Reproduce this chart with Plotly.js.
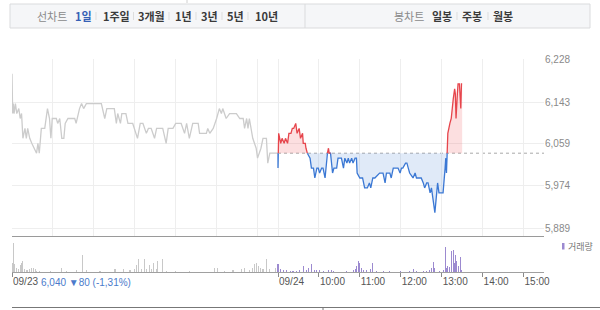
<!DOCTYPE html>
<html><head><meta charset="utf-8">
<script src="https://cdn.plot.ly/plotly-3.0.1.min.js"></script>
<style>html,body{margin:0;padding:0;background:#fff;}#chart{width:600px;height:310px;}</style>
</head><body><div id="chart"></div>
<script>
// ---------------- data ----------------
const prevClose = 6040;
const yTickVals = [5889, 5974, 6059, 6143, 6228];
const xTickDays  = [1, 2, 2, 2, 2, 2, 2, 2];
const xTickTimes = ["09:00","09:00","10:00","11:00","12:00","13:00","14:00","15:00"];
const xTickLabels = ["09/23","09/24","10:00","11:00","12:00","13:00","14:00","15:00"];
const gridHours = ["09:00","10:00","11:00","12:00","13:00","14:00","15:00"];

const day1Times = ["09:00","09:01","09:02","09:03","09:05","09:07","09:10","09:12","09:14","09:16","09:19","09:21","09:23","09:26","09:29","09:33","09:36","09:38","09:40","09:43","09:48","09:52","09:55","09:57","09:59","10:05","10:07","10:10","10:13","10:16","10:18","10:22","10:32","10:34","10:37","10:39","10:42","10:45","10:49","11:11","11:16","11:19","11:30","11:33","11:35","11:39","11:41","11:47","11:50","11:57","12:04","12:08","12:12","12:17","12:20","12:24","12:29","12:32","12:41","12:46","12:49","12:56","13:00","13:08","13:13","13:16","13:20","13:25","13:33","13:35","13:45","13:47","13:50","13:55","14:00","14:04","14:07","14:09","14:14","14:19","14:29","14:34","14:39","14:41","14:44","14:46","14:48","14:51","14:53","14:58","15:00","15:05","15:08","15:13","15:15","15:18","15:30"];
const day1Price = [6200,6120,6140,6120,6140,6120,6130,6110,6120,6070,6090,6070,6090,6070,6060,6050,6040,6060,6040,6090,6090,6130,6110,6070,6110,6110,6100,6110,6070,6070,6100,6110,6110,6100,6120,6130,6140,6130,6140,6140,6110,6130,6130,6100,6120,6100,6120,6120,6100,6100,6070,6100,6100,6080,6090,6090,6070,6090,6090,6060,6090,6090,6100,6100,6080,6100,6070,6100,6100,6080,6080,6090,6080,6090,6110,6130,6120,6130,6110,6120,6120,6110,6110,6090,6110,6090,6110,6090,6070,6050,6030,6050,6070,6070,6020,6040,6040];

const day2Times = ["09:00","09:01","09:04","09:06","09:09","09:11","09:14","09:16","09:19","09:21","09:23","09:26","09:28","09:31","09:33","09:36","09:37","09:40","09:41","09:43","09:47","09:49","09:52","09:54","09:57","09:59","10:01","10:04","10:06","10:09","10:11","10:14","10:15","10:17","10:20","10:22","10:26","10:28","10:33","10:36","10:38","10:41","10:43","10:45","10:48","10:50","10:53","10:55","10:56","11:00","11:04","11:07","11:11","11:14","11:16","11:19","11:22","11:29","11:34","11:37","11:39","11:44","11:46","11:49","11:56","11:59","12:01","12:03","12:07","12:09","12:11","12:13","12:18","12:21","12:23","12:28","12:30","12:33","12:35","12:38","12:40","12:43","12:45","12:47","12:50","12:52","12:54","12:56","13:02","13:05","13:06","13:07","13:08","13:09","13:12","13:14","13:17","13:19","13:20","13:21","13:23","13:24","13:26","13:28","13:29","13:30"];
const day2Price = [6010,6080,6060,6070,6060,6070,6060,6080,6080,6090,6090,6100,6080,6090,6070,6080,6060,6060,6050,6040,6030,6010,6010,5990,6010,6010,6000,6010,6010,5990,6030,6050,6040,6040,6000,6010,6010,6030,6030,6010,6030,6020,6030,6020,6030,6020,6030,6030,6000,5990,5990,5970,5970,5980,5970,5990,5990,6000,6000,5980,6000,6000,5990,6010,6010,6000,6010,6010,6020,6020,6010,6000,5990,6000,5990,5990,5990,5980,5970,5980,5980,5960,5970,5950,5920,5950,5980,5960,5960,6010,6030,6000,6040,6080,6100,6110,6150,6170,6160,6110,6160,6180,6180,6130,6180,6180];

const day1VolTimes = ["09:00","09:02","09:04","09:07","09:09","09:12","09:14","09:16","09:19","09:22","09:26","09:29","09:31","09:34","09:36","09:41","09:56","10:13","10:20","10:35","10:43","10:49","11:09","11:31","11:43","11:53","12:00","12:02","12:06","12:10","12:14","12:17","12:22","12:24","12:28","12:32","12:34","12:40","12:46","12:59","13:20","13:57","14:02","14:12","14:24","14:36","14:41","14:48","14:53","14:56","14:58","15:02","15:05","15:08","15:13","15:18","15:27"];
const day1Vol = [9300,29300,7700,4300,2700,6700,9300,11000,2700,2000,2700,4300,4000,2700,1300,1300,1300,4300,1500,2000,16700,2000,1000,2700,2700,1700,2700,6700,12700,2700,13300,2700,6700,2700,8700,2700,11000,12700,1500,1200,1200,4300,4300,1500,2000,3300,4300,2000,4000,7700,9300,6000,4300,3300,12700,3300,4300];

const day2VolTimes = ["09:00","09:03","09:08","09:13","09:18","09:22","09:27","09:32","09:37","09:42","09:44","09:49","09:54","09:57","10:01","10:06","10:14","10:19","10:21","10:41","10:50","10:53","10:55","10:58","11:00","11:02","11:05","11:10","11:15","11:19","11:24","11:34","11:44","11:59","12:13","12:18","12:23","12:33","12:38","12:42","12:45","12:48","12:50","12:57","13:02","13:05","13:07","13:09","13:12","13:14","13:17","13:19","13:20","13:22","13:24","13:27","13:29"];
const day2Vol = [8000,3000,2300,1700,1500,1500,1500,2300,5700,1700,4000,8000,2300,1700,1700,1000,1700,2300,1300,1300,2300,3000,5700,11300,9000,4000,2300,1700,3000,9000,1300,1000,1000,1300,1300,3000,1000,1000,1300,1700,4000,9700,4000,1000,2300,25000,4000,5700,5000,20700,22300,9000,17300,10700,5700,15000,2300];

const summaryText = "6,040 ▼80 (-1,31%)";
const legendText = "거래량";
const lineLabel = "선차트";
const periodLabels = ["1일","1주일","3개월","1년","3년","5년","10년"];
const candleLabel = "봉차트";
const candleLabels = ["일봉","주봉","월봉"];

// ---------------- helpers ----------------
function tx(day, t){ const p = t.split(':').map(Number); return (day-1)*390 + (p[0]-9)*60 + p[1]; }
const L = 12, R = 56, T = 59, B = 38, W = 600, H = 310;
const PW = W - L - R, PH = H - T - B;
const PX = p => (p - L) / PW;
const PY = p => (H - B - p) / PH;
const KFONT = '"Noto Sans CJK KR", "Noto Sans", sans-serif';
const NFONT = 'Arial, "Liberation Sans", "Noto Sans CJK KR", sans-serif';

// day-2 sequence starting from previous close, split at the baseline
const seq = [{x: tx(1, day1Times[day1Times.length-1]), y: day1Price[day1Price.length-1]}]
  .concat(day2Times.map((t,i)=>({x: tx(2,t), y: day2Price[i]})));
const aug = [];
for (let i=0;i<seq.length;i++){
  if (i>0){
    const a=seq[i-1], b=seq[i];
    if ((a.y-prevClose)*(b.y-prevClose) < 0){
      const f=(prevClose-a.y)/(b.y-a.y);
      aug.push({x:a.x+f*(b.x-a.x), y:prevClose});
    }
  }
  aug.push(seq[i]);
}
const ax = aug.map(p=>p.x);
const baseY = aug.map(()=>prevClose);

const traces = [
  {x: ax, y: baseY, mode:'lines', line:{width:0}, hoverinfo:'skip', xaxis:'x', yaxis:'y'},
  {x: ax, y: aug.map(p=>Math.max(p.y,prevClose)), mode:'lines', line:{width:0}, fill:'tonexty', fillcolor:'rgba(240,110,115,0.22)', hoverinfo:'skip', xaxis:'x', yaxis:'y'},
  {x: ax, y: baseY, mode:'lines', line:{width:0}, hoverinfo:'skip', xaxis:'x', yaxis:'y'},
  {x: ax, y: aug.map(p=>Math.min(p.y,prevClose)), mode:'lines', line:{width:0}, fill:'tonexty', fillcolor:'rgba(100,150,220,0.2)', hoverinfo:'skip', xaxis:'x', yaxis:'y'},
  {x: day1Times.map(t=>tx(1,t)), y: day1Price, mode:'lines', line:{color:'#cccccc', width:1.3}, xaxis:'x', yaxis:'y'},
  {x: ax, y: aug.map(p=>p.y<=prevClose?p.y:null), mode:'lines', connectgaps:false, line:{color:'#3b78d4', width:1.3}, xaxis:'x', yaxis:'y'},
  {x: ax, y: aug.map(p=>p.y>=prevClose?p.y:null), mode:'lines', connectgaps:false, line:{color:'#e6454c', width:1.3}, xaxis:'x', yaxis:'y'},
  {type:'bar', x: day1VolTimes.map(t=>tx(1,t)), y: day1Vol, width:1.5, marker:{color:'#c8c8c8', line:{width:0}}, xaxis:'x2', yaxis:'y2'},
  {type:'bar', x: day2VolTimes.map(t=>tx(2,t)), y: day2Vol, width:1.5, marker:{color:'#9c8ad0', line:{width:0}}, xaxis:'x2', yaxis:'y2'}
];

const shapes = [
  {type:'line', xref:'x', yref:'y', x0: tx(2,"09:00"), x1: 780, y0: prevClose, y1: prevClose, line:{color:'#a8a8a8', width:1, dash:'dot'}, layer:'below'},
  // toolbar box
  {type:'rect', xref:'paper', yref:'paper', x0:PX(10), x1:PX(590), y0:PY(28), y1:PY(4), fillcolor:'#f5f6f8', line:{color:'#dadbdd', width:1}, layer:'below'},
  {type:'line', xref:'paper', yref:'paper', x0:PX(305), x1:PX(305), y0:PY(28), y1:PY(4), line:{color:'#dadbdd', width:1}},
  {type:'line', xref:'paper', yref:'paper', x0:PX(187), x1:PX(187), y0:PY(3), y1:PY(0), line:{color:'#d0d0d0', width:1}},
  // legend swatch
  {type:'rect', xref:'paper', yref:'paper', x0:PX(562), x1:PX(564.5), y0:PY(249.5), y1:PY(243), fillcolor:'#9c8ad0', line:{width:0}},
  // bottom border of next block
  {type:'line', xref:'paper', yref:'paper', x0:PX(12), x1:PX(600), y0:PY(307.5), y1:PY(307.5), line:{color:'#777', width:1.2}},
  {type:'line', xref:'paper', yref:'paper', x0:PX(323), x1:PX(323), y0:PY(307.5), y1:PY(310), line:{color:'#777', width:1}}
];

const annotations = [];
function ann(text, cx, cy, opts){
  annotations.push(Object.assign({xref:'paper', yref:'paper', x:PX(cx), y:PY(cy), text:text, showarrow:false, xanchor:'center', yanchor:'middle'}, opts||{}));
}
const periodCenters = [83.5, 116, 151, 183, 209.5, 235.5, 266];
const periodSeps = [96, 133.5, 169, 196, 222, 248];
ann(lineLabel, 52, 16, {font:{family:KFONT, size:11, color:'#8a8a8a'}});
periodLabels.forEach((t,i)=>ann('<b>'+t+'</b>', periodCenters[i], 16, {font:{family:KFONT, size:11, color: i===0 ? '#3560b5' : '#3a3a3a'}}));
periodSeps.forEach(s=>shapes.push({type:'line', xref:'paper', yref:'paper', x0:PX(s), x1:PX(s), y0:PY(20), y1:PY(12), line:{color:'#dddddd', width:1}}));
const candleCenters = [441.5, 471.5, 502.5];
ann(candleLabel, 408.5, 16, {font:{family:KFONT, size:11, color:'#8a8a8a'}});
candleLabels.forEach((t,i)=>ann('<b>'+t+'</b>', candleCenters[i], 16, {font:{family:KFONT, size:11, color:'#3a3a3a'}}));
[457, 488].forEach(s=>shapes.push({type:'line', xref:'paper', yref:'paper', x0:PX(s), x1:PX(s), y0:PY(20), y1:PY(12), line:{color:'#dddddd', width:1}}));
ann(legendText, 566, 246, {xanchor:'left', font:{family:KFONT, size:9, color:'#777'}});
ann(summaryText, 39, 282.5, {xanchor:'left', font:{family:NFONT, size:10, color:'#4b7bcb'}});

const layout = {
  width: W, height: H,
  margin: {l:L, r:R, t:T, b:B, pad:0},
  paper_bgcolor:'#ffffff', plot_bgcolor:'#ffffff',
  showlegend:false, bargap:0,
  xaxis: {domain:[0,1], range:[0,780], anchor:'y', tickvals: [1,2].flatMap(d=>gridHours.map(h=>tx(d,h))), showticklabels:false, ticks:'', showgrid:true, gridcolor:'#eeeeee', gridwidth:1, zeroline:false, showline:true, linecolor:'#9a9a9a', linewidth:1},
  yaxis: {domain:[PY(236),1], range:[5873,6230], side:'right', anchor:'x', tickvals:yTickVals, ticktext:yTickVals.map(v=>v.toLocaleString('en-US')), tickfont:{family:NFONT, size:10, color:'#8a8a8a'}, ticks:'', showgrid:true, gridcolor:'#eeeeee', zeroline:false, showline:false},
  xaxis2: {domain:[0,1], range:[0,780], anchor:'y2', tickvals: xTickTimes.map((t,i)=>tx(xTickDays[i],t)), ticktext:xTickLabels, ticks:'outside', ticklen:4, tickcolor:'#8a8a8a', tickwidth:1, ticklabelposition:'outside right', tickfont:{family:NFONT, size:10, color:'#555'}, showgrid:false, zeroline:false, showline:true, linecolor:'#a0a0a0', linewidth:1},
  yaxis2: {domain:[0,PY(240)], range:[0,32000], anchor:'x2', showticklabels:false, showgrid:false, zeroline:false, ticks:''},
  shapes: shapes,
  annotations: annotations
};

Plotly.newPlot('chart', traces, layout, {displayModeBar:false, staticPlot:true});
</script>
</body></html>
